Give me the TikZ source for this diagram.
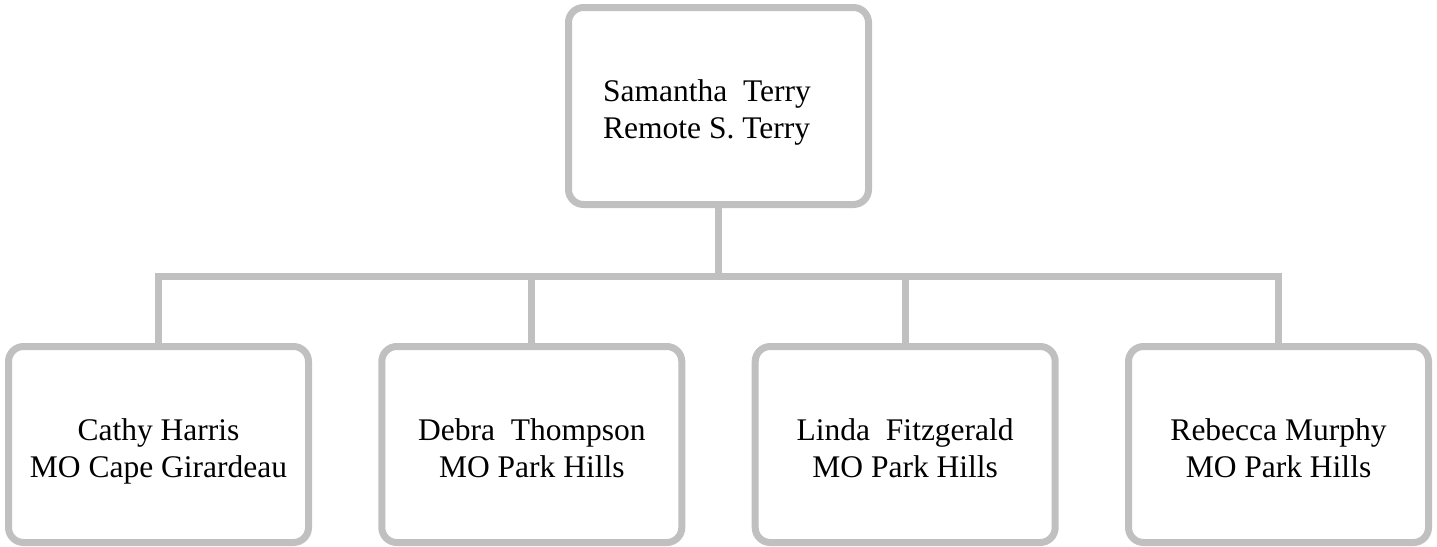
\documentclass[tikz,border=0pt]{standalone}
\usepackage{fontspec}
\setmainfont{Liberation Serif}
\begin{document}
\begin{tikzpicture}[x=1pt,y=-1pt,
  box/.style={draw=boxgray, line width=7pt, rounded corners=15pt, fill=white,
    minimum width=300pt, minimum height=196pt, inner sep=0pt},
  lbl/.style={align=center, font=\fontsize{31.5pt}{37pt}\selectfont, inner sep=0pt, anchor=base},
  conn/.style={draw=boxgray, line width=7pt}]
\definecolor{boxgray}{RGB}{192,192,192}
\useasboundingbox (0,0) rectangle (1437,546);
\node[box, minimum height=197pt] (top) at (718.5,106) {};
\node[lbl, align=left] (toptext) at (707,138) {Samantha\ \ Terry\\Remote S. Terry};
\node[box] (c1) at (158.5,444.5) {};
\node[box] (c2) at (531.8,444.5) {};
\node[box] (c3) at (905.2,444.5) {};
\node[box] (c4) at (1278.5,444.5) {};
\node[lbl] (t1) at (158.5,477) {Cathy Harris\\MO Cape Girardeau};
\node[lbl] (t2) at (531.8,477) {Debra\ \ Thompson\\MO Park Hills};
\node[lbl] (t3) at (905.2,477) {Linda\ \ Fitzgerald\\MO Park Hills};
\node[lbl] (t4) at (1278.5,477) {Rebecca Murphy\\MO Park Hills};
\coordinate (hub) at (718.5,276);
\draw[conn] (top.south) -- (hub);
\draw[conn] (c1.north) |- (hub) -| (c4.north);
\draw[conn] (c2.north) -- (c2.north |- hub);
\draw[conn] (c3.north) -- (c3.north |- hub);
\end{tikzpicture}
\end{document}
